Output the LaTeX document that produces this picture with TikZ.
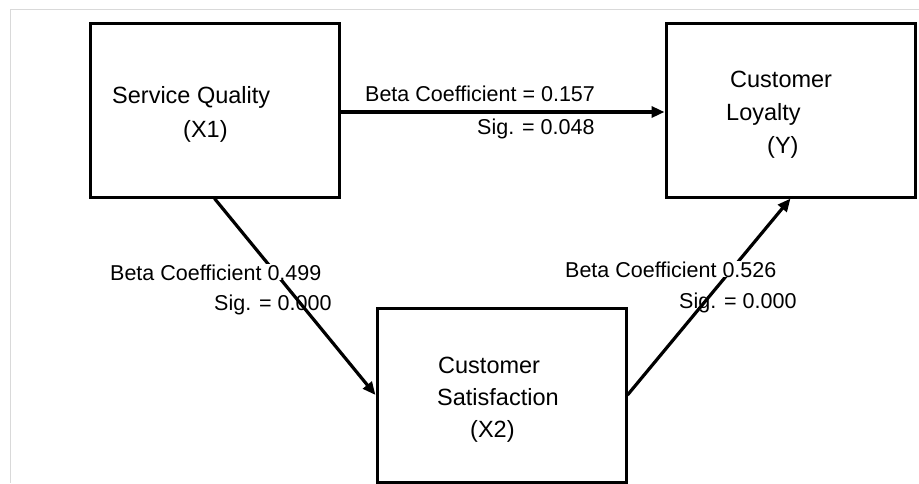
\documentclass[tikz,border=0pt]{standalone}
\usepackage{fontspec}
\setmainfont{Liberation Sans}
\usetikzlibrary{arrows.meta}

\tikzset{
  varbox/.style={draw, line width=3pt, minimum width=249pt, minimum height=174pt, inner sep=0pt},
  boxtext/.style={anchor=base west, inner sep=0pt, font=\fontsize{23.5}{28}\selectfont},
  coef/.style={anchor=base west, inner sep=0pt, font=\fontsize{21.5}{26}\selectfont},
  link/.style={line width=3.2pt, -{Triangle[length=13pt,width=11pt]}}
}

\begin{document}
\begin{tikzpicture}[x=1pt, y=-1pt]
      \useasboundingbox (0,0) rectangle (919,483);
      \draw[black!15, line width=1pt] (919,9.5) -- (10.5,9.5) -- (10.5,483);

      % the three variables
      \node[varbox] (X1) at (214.5,110) {};
      \node[varbox] (Y) at (790.5,110) {};
      \node[varbox] (X2) at (501.5,395) {};

      \node[boxtext] (x1a) at (112,103) {Service Quality};
      \node[boxtext] (x1b) at (183,137) {(X1)};
      \node[boxtext] (ya) at (730,87) {Customer};
      \node[boxtext] (yb) at (726,120) {Loyalty};
      \node[boxtext] (yc) at (767,153) {(Y)};
      \node[boxtext] (x2a) at (438,373) {Customer};
      \node[boxtext] (x2b) at (437,405) {Satisfaction};
      \node[boxtext] (x2c) at (470,437) {(X2)};

      % paths
      \draw[link] ([yshift=-2pt]X1.east) -- ([yshift=-2pt]Y.west);
      \draw[link] (X1.south) -- (X2.west);
      \draw[link] (X2.east) -- (Y.south);

      \node[coef] (b1) at (365,101) {Beta Coefficient = 0.157};
      \node[coef] (s1) at (477,134) {Sig. = 0.048};
      \node[coef, fill=white] (b2) at (110,280) {Beta Coefficient 0.499};
      \node[coef] (s2) at (214,310) {Sig. = 0.000};
      \node[coef, fill=white] (b3) at (565,277) {Beta Coefficient 0.526};
      \node[coef] (s3) at (679,308) {Sig. = 0.000};
\end{tikzpicture}
\end{document}
